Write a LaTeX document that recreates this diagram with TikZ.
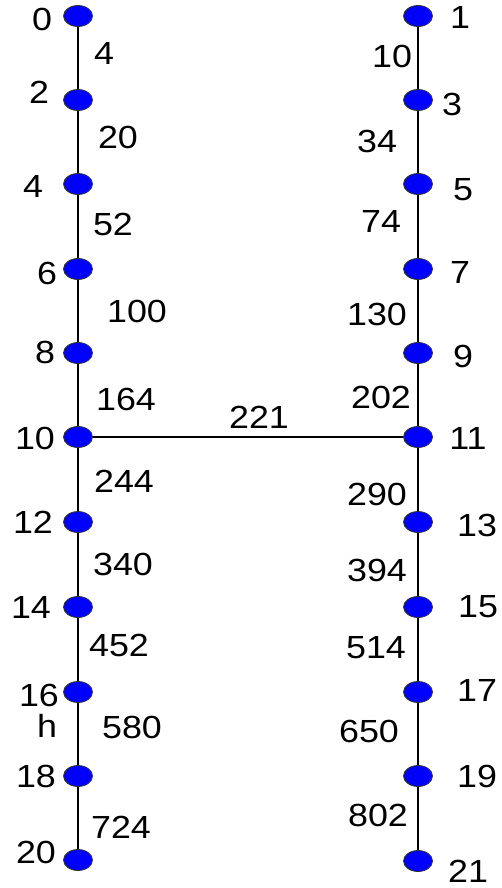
\documentclass[tikz,border=0pt]{standalone}
\usepackage{fontspec}
\setmainfont{Liberation Sans}[FakeStretch=1.12]
\usetikzlibrary{shapes.geometric}
\begin{document}
\begin{tikzpicture}[x=1pt,y=-1pt,
  vtx/.style={ellipse,draw=black!80,line width=0.8pt,fill=blue,minimum width=29pt,minimum height=21pt,inner sep=0pt},
  lbl/.style={font=\fontsize{32}{36}\selectfont,inner sep=0pt,anchor=center},
  edge/.style={line width=2pt,black}]
\useasboundingbox (0,0) rectangle (501,888);
% vertices
\foreach \n/\y in {0/16,2/100,4/184,6/269,8/353,10/437,12/522,14/607,16/692,18/776,20/860}
  \node[vtx] (v\n) at (78,\y) {};
\foreach \n/\y in {1/16,3/100,5/184,7/269,9/353,11/437,13/522,15/607,17/692,19/776,21/861}
  \node[vtx] (v\n) at (418,\y) {};
% edges
\draw[edge] (v0) -- (v2) (v2) -- (v4) (v4) -- (v6) (v6) -- (v8) (v8) -- (v10) (v10) -- (v12) (v12) -- (v14) (v14) -- (v16) (v16) -- (v18) (v18) -- (v20);
\draw[edge] (v1) -- (v3) (v3) -- (v5) (v5) -- (v7) (v7) -- (v9) (v9) -- (v11) (v11) -- (v13) (v13) -- (v15) (v15) -- (v17) (v17) -- (v19) (v19) -- (v21);
\draw[edge] (v10) -- (v11);
% vertex labels
\node[lbl] (l0) at (42,19) {0};
\node[lbl] (l2) at (39,92) {2};
\node[lbl] (l4) at (33,186) {4};
\node[lbl] (l6) at (47,273) {6};
\node[lbl] (l8) at (45,352) {8};
\node[lbl] (l10) at (35,438) {10};
\node[lbl] (l12) at (33,522) {12};
\node[lbl] (l14) at (31,607) {14};
\node[lbl] (l16) at (39,695) {16};
\node[lbl] (lh) at (47,726) {h};
\node[lbl] (l18) at (36,776) {18};
\node[lbl] (l20) at (36,852) {20};
\node[lbl] (l1) at (460,17) {1};
\node[lbl] (l3) at (452,104) {3};
\node[lbl] (l5) at (463,190) {5};
\node[lbl] (l7) at (460,272) {7};
\node[lbl] (l9) at (463,356) {9};
\node[lbl] (l11) at (468,438) {11};
\node[lbl] (l13) at (477,525) {13};
\node[lbl] (l15) at (478,607) {15};
\node[lbl] (l17) at (477,690) {17};
\node[lbl] (l19) at (477,776) {19};
\node[lbl] (l21) at (468,871) {21};
% edge labels
\node[lbl] (e0) at (104,53) {4};
\node[lbl] (e2) at (118,137) {20};
\node[lbl] (e4) at (113,224) {52};
\node[lbl] (e6) at (137,311) {100};
\node[lbl] (e8) at (126,399) {164};
\node[lbl] (e10) at (124,481) {244};
\node[lbl] (e12) at (123,564) {340};
\node[lbl] (e14) at (119,645) {452};
\node[lbl] (e16) at (132,727) {580};
\node[lbl] (e18) at (121,827) {724};
\node[lbl] (e1) at (392,56) {10};
\node[lbl] (e3) at (377,141) {34};
\node[lbl] (e5) at (381,221) {74};
\node[lbl] (e7) at (377,314) {130};
\node[lbl] (e9) at (381,397) {202};
\node[lbl] (e11) at (377,494) {290};
\node[lbl] (e13) at (377,570) {394};
\node[lbl] (e15) at (376,648) {514};
\node[lbl] (e17) at (369,731) {650};
\node[lbl] (e19) at (378,815) {802};
\node[lbl] (emid) at (259,417) {221};
\end{tikzpicture}
\end{document}
